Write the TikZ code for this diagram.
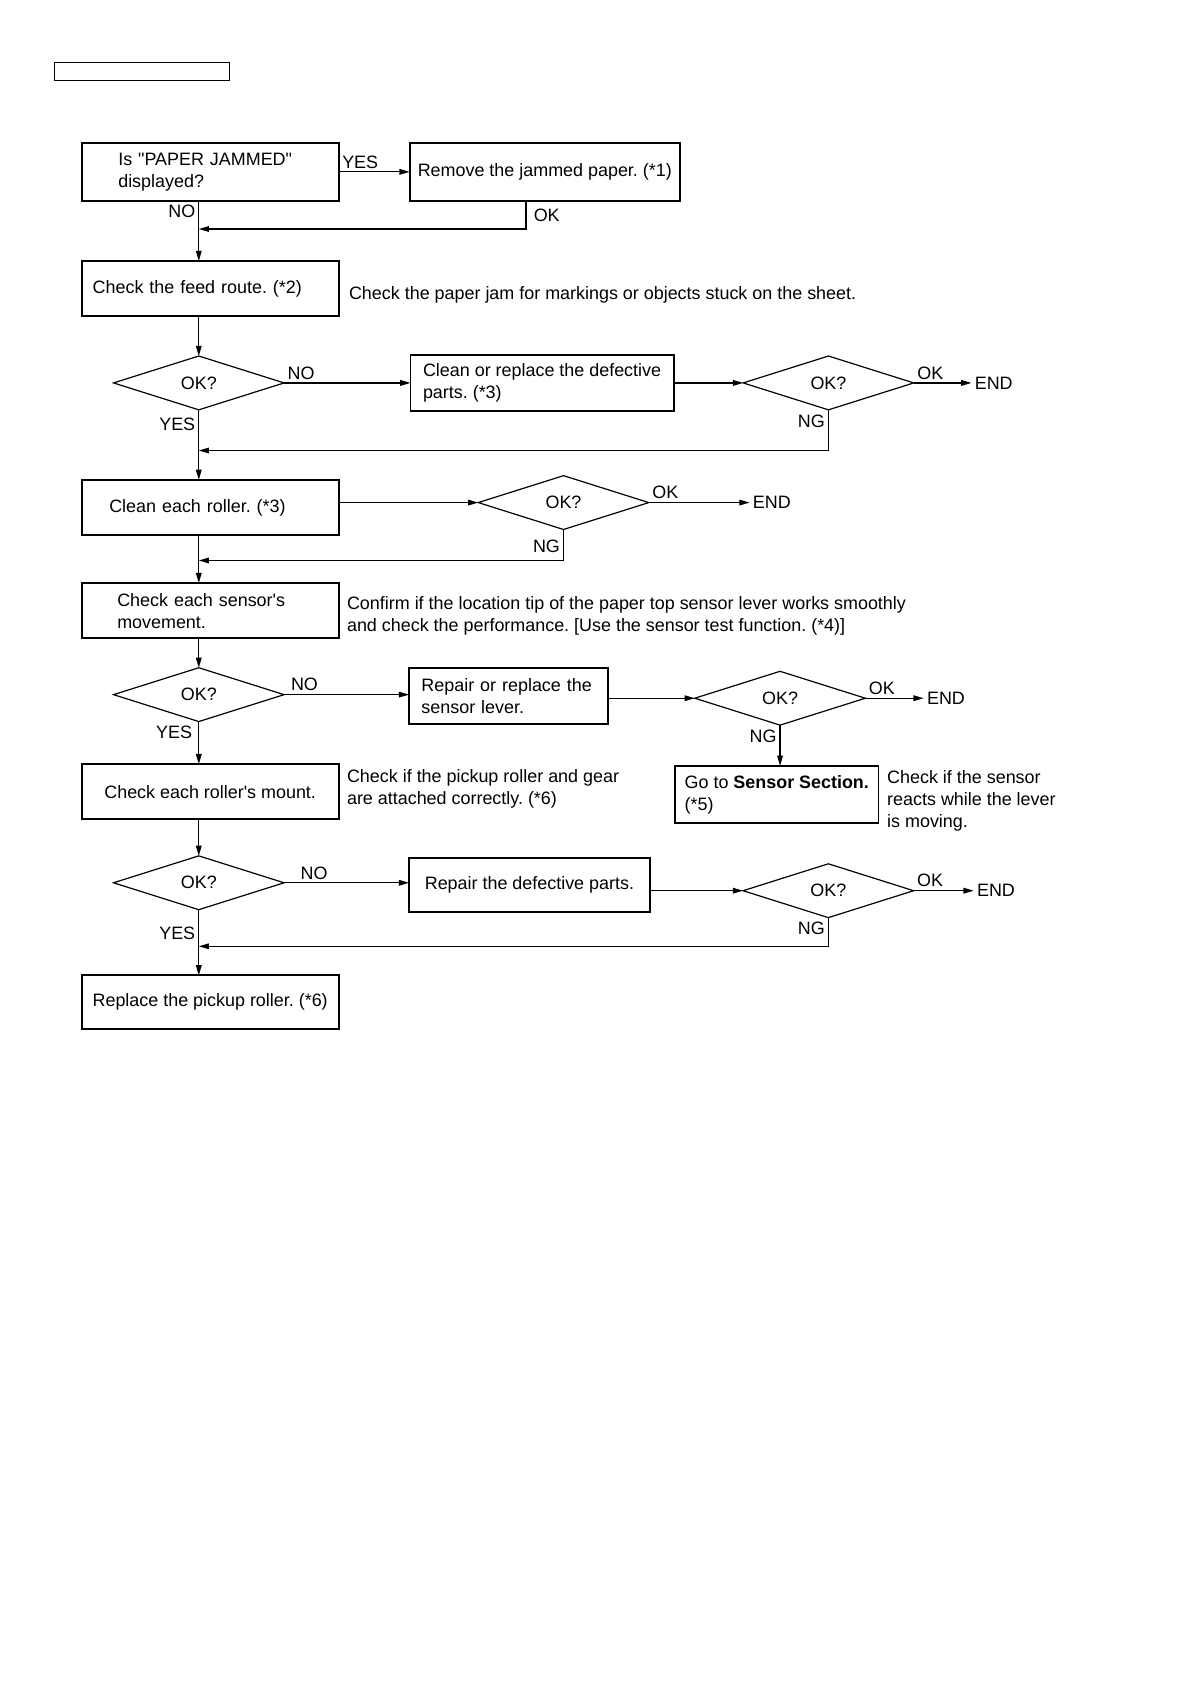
\documentclass[tikz,border=0pt]{standalone}
\usepackage{fontspec}
\setmainfont{Liberation Sans}[Ligatures=TeXOff]
\usetikzlibrary{arrows.meta, positioning, shapes.geometric}
\frenchspacing
\tikzset{
  box/.style={rectangle, draw, line width=0.9pt, outer sep=0pt, minimum width=45.35mm, minimum height=9.75mm,
    align=left, inner sep=1mm, font=\fontsize{9}{11}\selectfont},
  hdrbox/.style={rectangle, draw, line width=0.6pt, minimum width=30.95mm, minimum height=3.18mm, inner sep=0pt},
  check/.style={diamond, draw, line width=0.6pt, outer sep=0pt, minimum width=30.1mm, minimum height=9.5mm,
    inner sep=0pt, font=\fontsize{9}{11}\selectfont},
  note/.style={align=left, inner sep=0pt, font=\fontsize{9}{11}\selectfont},
  endtxt/.style={inner sep=0.6mm, outer sep=0pt, font=\fontsize{9}{11}\selectfont},
  lbl/.style={inner sep=1.5pt, font=\fontsize{9}{11}\selectfont},
  arrow/.style={-{Triangle[length=1.8mm, width=1mm]}, line width=0.6pt},
}
\begin{document}
\begin{tikzpicture}
\useasboundingbox (0,0) rectangle (210mm,-297.18mm);
\node[hdrbox] (hdr) at (25.06mm,-12.58mm) {};

\node[box, minimum height=10.29mm, text width=32.43mm, inner xsep=6.46mm] (jam) at (37.09mm,-30.33mm) {Is "PAPER JAMMED"\\displayed?};
\node[box, minimum width=47.7mm, minimum height=10.29mm, right=12.53mm of jam] (remove) {Remove the jammed paper. (*1)};
\node[box, minimum height=9.7mm, text width=41.47mm, inner xsep=1.94mm, below=10.59mm of jam] (route) {Check the feed route. (*2)};
\node[note, right=1.76mm of route, yshift=-1.04mm] (routenote) {Check the paper jam for markings or objects stuck on the sheet.};
\node[check, below=7.06mm of route, xshift=-2.01mm] (ok1) {OK?};
\node[box, minimum width=46.46mm, minimum height=9.88mm, right=22.3mm of ok1] (clean) {Clean or replace the defective\\parts. (*3)};
\node[check, right=12.26mm of clean] (ok2) {OK?};
\node[endtxt, right=10.18mm of ok2] (end1) {END};
\node[box, text width=35.61mm, inner xsep=4.87mm, below=12.35mm of ok1, xshift=2.01mm] (roller) {Clean each roller. (*3)};
\node[check, right=24.63mm of roller, yshift=0.86mm] (ok3) {OK?};
\node[endtxt, right=17.77mm of ok3] (end2) {END};
\node[box, text width=32.79mm, inner xsep=6.28mm, below=8.47mm of roller] (sensor) {Check each sensor's\\movement.};
\node[note, right=1.41mm of sensor, yshift=-0.97mm] (sensornote) {Confirm if the location tip of the paper top sensor lever works smoothly\\and check the performance. [Use the sensor test function. (*4)]};
\node[check, below=5.19mm of sensor, xshift=-2.01mm] (ok4) {OK?};
\node[box, minimum width=35.12mm, minimum height=9.83mm, text width=30.74mm, inner xsep=2.19mm, right=22.06mm of ok4, yshift=-0.26mm] (lever) {Repair or replace the\\sensor lever.};
\node[check, right=15.3mm of lever, yshift=-0.37mm] (ok5) {OK?};
\node[endtxt, right=10.29mm of ok5] (end3) {END};
\node[box, minimum width=35.88mm, minimum height=10.1mm, below=7.18mm of ok5, xshift=-0.58mm] (section) {Go to \textbf{Sensor Section.}\\(*5)};
\node[note, right=1.48mm of section, yshift=-1.1mm] (sectionnote) {Check if the sensor\\reacts while the lever\\is moving.};
\node[box, minimum height=9.7mm, below=7.52mm of ok4, xshift=2.01mm] (mount) {Check each roller's mount.};
\node[note, right=1.41mm of mount, yshift=0.56mm] (mountnote) {Check if the pickup roller and gear\\are attached correctly. (*6)};
\node[check, below=6.48mm of mount, xshift=-2.01mm] (ok6) {OK?};
\node[box, minimum width=42.48mm, minimum height=9.53mm, right=22.06mm of ok6, yshift=-0.4mm] (repair) {Repair the defective parts.};
\node[check, right=16.46mm of repair, yshift=-1mm] (ok7) {OK?};
\node[endtxt, right=10.59mm of ok7] (end4) {END};
\node[box, minimum height=9.46mm, below=11.59mm of ok6, xshift=2.01mm] (pickup) {Replace the pickup roller. (*6)};

% return points of the NG / OK branches
\coordinate[below=4.94mm of remove.south, xshift=-3.33mm] (back1);
\coordinate[below=7.18mm of ok2.south] (back2);
\coordinate[below=5.47mm of ok3.south] (back3);
\coordinate[below=5.06mm of ok7.south] (back4);

\draw[arrow] (jam.east) -- node[lbl, pos=0, above right]{YES} (remove.west);
\draw[arrow] (back1 |- remove.south) -- node[lbl, right, xshift=0.75mm]{OK} (back1) -- (back1 -| ok1);
\draw[arrow] (jam.south -| ok1) -- node[lbl, pos=0.18, left]{NO} (route.north -| ok1);
\draw[arrow] (route.south -| ok1) -- (ok1.north);
\draw[arrow] (ok1.east) -- node[lbl, pos=0, above right]{NO} (ok1.east -| clean.west);
\draw[arrow] (clean.east) -- (ok2.west);
\draw[arrow] (ok2.east) -- node[lbl, pos=0, above right]{OK} (end1.west);
\draw[arrow] (ok2.south) -- node[lbl, pos=0.29, left]{NG} (back2) -- (back2 -| ok1);
\draw[arrow] (ok1.south) -- node[lbl, pos=0.2, left]{YES} (roller.north -| ok1);
\draw[arrow] (roller.east |- ok3) -- (ok3.west);
\draw[arrow] (ok3.east) -- node[lbl, pos=0, above right]{OK} (end2.west);
\draw[arrow] (ok3.south) -- node[lbl, pos=0.55, left]{NG} (back3) -- (back3 -| ok1);
\draw[arrow] (roller.south -| ok1) -- (sensor.north -| ok1);
\draw[arrow] (sensor.south -| ok4) -- (ok4.north);
\draw[arrow] (ok4.east) -- node[lbl, pos=0, above right, xshift=0.6mm]{NO} (ok4.east -| lever.west);
\draw[arrow] (lever.east |- ok5) -- (ok5.west);
\draw[arrow] (ok5.east) -- node[lbl, pos=0, above right]{OK} (end3.west);
\draw[arrow] (ok5.south) -- node[lbl, pos=0.27, left]{NG} (section.north -| ok5);
\draw[arrow] (ok4.south) -- node[lbl, pos=0.25, left, xshift=-0.55mm]{YES} (mount.north -| ok4);
\draw[arrow] (mount.south -| ok6) -- (ok6.north);
\draw[arrow] (ok6.east) -- node[lbl, pos=0, above right, xshift=2.3mm]{NO} (ok6.east -| repair.west);
\draw[arrow] (repair.east |- ok7) -- (ok7.west);
\draw[arrow] (ok7.east) -- node[lbl, pos=0, above right]{OK} (end4.west);
\draw[arrow] (ok7.south) -- node[lbl, pos=0.36, left]{NG} (back4) -- (back4 -| ok1);
\draw[arrow] (ok6.south) -- node[lbl, pos=0.36, left]{YES} (pickup.north -| ok6);
\end{tikzpicture}
\end{document}
